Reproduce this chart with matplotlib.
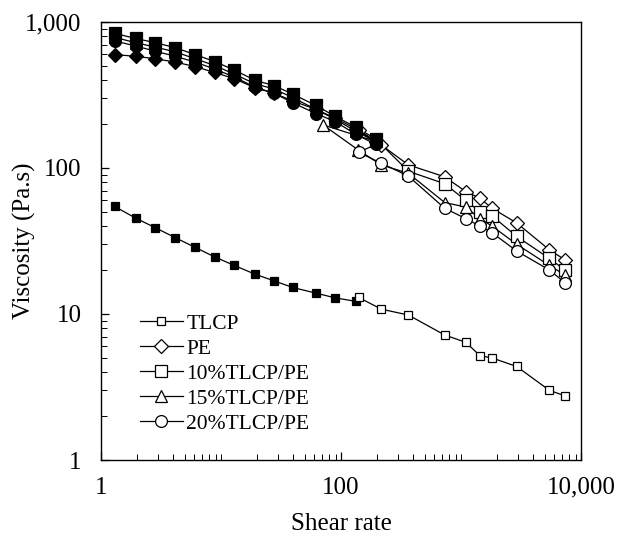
import matplotlib
matplotlib.use("Agg")
import matplotlib.pyplot as plt
from matplotlib.lines import Line2D
from matplotlib.ticker import FixedLocator, LogLocator, NullFormatter, FuncFormatter

plt.rcParams['font.family'] = ['Liberation Serif', 'DejaVu Serif']

# shear rates: filled points (low shear) and open points (high shear)
x_rot = [1.3, 1.94, 2.83, 4.17, 6.08, 8.86, 12.9, 19.3, 27.5, 39.5, 61.7, 89.3, 133, 195]
x_cap = [140, 216, 364, 731, 1095, 1440, 1813, 2912, 5450, 7350]

# TLCP
tlcp_rot = [54.5, 45.4, 39.0, 33.3, 28.6, 24.6, 21.5, 18.7, 16.9, 15.2, 13.9, 12.9, 12.2]
tlcp_cap = [13.0, 10.8, 9.84, 7.18, 6.40, 5.18, 5.0, 4.37, 3.0, 2.75]

# PE
pe_rot = [598, 582, 560, 531, 495, 451, 409, 353, 326, 288, 252, 220, 185, 150]
pe_cap = [182, 144, 105, 87, 69, 62, 53, 42, 27.5, 23.5]

# 10%TLCP/PE
b10_rot = [836, 771, 722, 666, 598, 536, 469, 398, 367, 321, 268, 226, 190, 158]
b10_xcap = [364, 731, 1095, 1440, 1813, 2912, 5450, 7350]
b10_cap = [95, 78, 60, 50, 47, 34, 24, 20]

# 15%TLCP/PE
b15_rot = [784, 722, 673, 624, 560, 503, 439, 377, 348, 304, 252, 216, 178, 152]
b15_xcap = [71, 139, 216, 364, 731, 1095, 1440, 1813, 2912, 5450, 7350]
b15_cap = [197, 133, 105, 92, 58, 54, 45, 40, 30, 21.5, 18.5]

# 20%TLCP/PE
b20_rot = [742, 685, 631, 582, 531, 476, 420, 357, 326, 280, 236, 208, 170, 145]
b20_cap = [128, 108, 88, 53, 45, 40, 36, 27, 20, 16.4]

labels = ["TLCP", "PE", "10%TLCP/PE", "15%TLCP/PE", "20%TLCP/PE"]

fig = plt.figure(figsize=(6.17, 5.44), dpi=100)
ax = fig.add_axes([0.1637, 0.1544, 0.778, 0.8052])

series = [
    (x_rot[:len(tlcp_rot)], tlcp_rot, x_cap, tlcp_cap, 's', 5.5),
    (x_rot, pe_rot, x_cap, pe_cap, 'D', 7.5),
    (x_rot, b10_rot, b10_xcap, b10_cap, 's', 8.5),
    (x_rot, b15_rot, b15_xcap, b15_cap, '^', 9),
    (x_rot, b20_rot, x_cap, b20_cap, 'o', 8.5),
]

handles = []
for (xr, yr, xc, yc, m, ms), lab in zip(series, labels):
    ax.plot(list(xr) + list(xc), list(yr) + list(yc), '-', color='k', lw=0.9, zorder=2)
    ax.plot(xr, yr, m, ms=ms, mfc='k', mec='k', mew=0.9, ls='none', zorder=3)
    ax.plot(xc, yc, m, ms=ms, mfc='w', mec='k', mew=0.9, ls='none', zorder=3)
    handles.append(Line2D([], [], color='k', lw=0.9, marker=m, ms=ms, mfc='w', mec='k', mew=0.9))

ax.set_xscale('log')
ax.set_yscale('log')
ax.set_xlim(1, 10000)
ax.set_ylim(1, 1000)

fmt = FuncFormatter(lambda v, p: f"{int(round(v)):,}")
ax.xaxis.set_major_locator(FixedLocator([1, 100, 10000]))
ax.xaxis.set_major_formatter(fmt)
ax.xaxis.set_minor_locator(LogLocator(base=10, subs=range(1, 10)))
ax.xaxis.set_minor_formatter(NullFormatter())
ax.yaxis.set_major_locator(FixedLocator([1, 10, 100, 1000]))
ax.yaxis.set_major_formatter(fmt)
ax.yaxis.set_minor_locator(LogLocator(base=10, subs=range(2, 10)))
ax.yaxis.set_minor_formatter(NullFormatter())

ax.tick_params(which='both', direction='in', top=False, right=False)
ax.tick_params(which='major', length=6, width=0.9, labelsize=18)
ax.tick_params(axis='x', which='major', pad=12)
ax.tick_params(axis='y', which='major', pad=14)
ax.tick_params(which='minor', length=4, width=0.7)
for s in ax.spines.values():
    s.set_linewidth(1.0)

ax.set_xlabel("Shear rate", fontsize=18, labelpad=10)
ax.set_ylabel("Viscosity (Pa.s)", fontsize=18)
ax.yaxis.set_label_coords(-0.135, 0.5)

ax.legend(handles, labels, loc='lower left', bbox_to_anchor=(0.063, 0.04), frameon=False,
          fontsize=15.5, handlelength=2.0, handletextpad=0.15, labelspacing=0.23, borderaxespad=0)

fig.savefig("out.png", dpi=100)
